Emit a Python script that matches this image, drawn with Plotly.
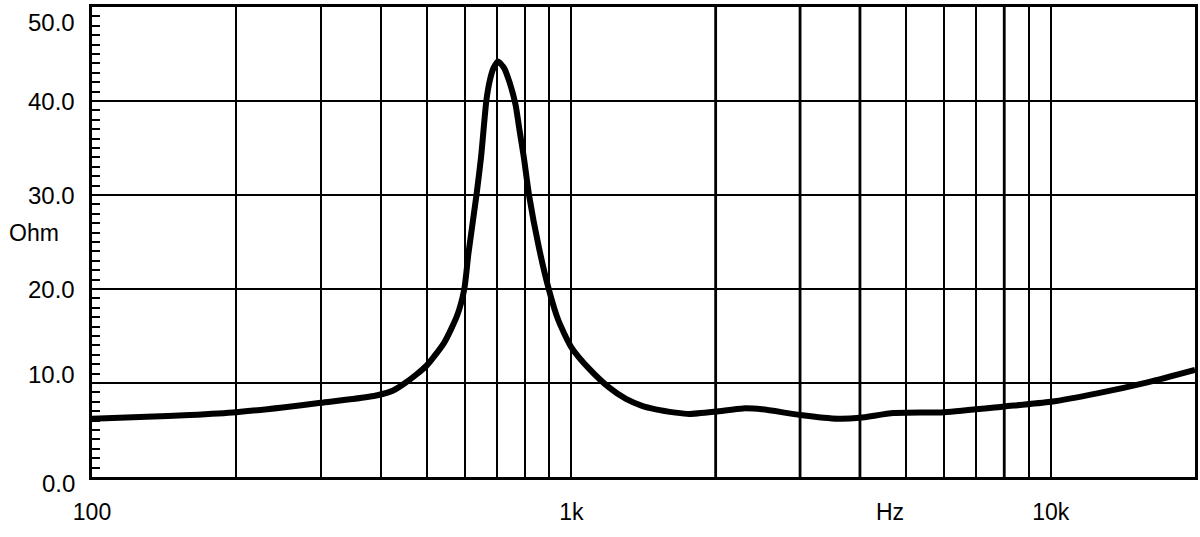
import math
import plotly.graph_objects as go

# ---- data ----
freq_hz = [100, 130, 160, 200, 250, 300, 350, 394, 425, 450, 475, 500, 543, 578, 598, 610,
           634, 648, 665, 676, 688, 703, 724, 743, 765, 779, 796, 816, 855, 897, 939, 1000,
           1090, 1200, 1300, 1400, 1500, 1650, 1760, 2000, 2280, 2500, 3000, 3600, 4000,
           4700, 6000, 8000, 10000, 12500, 16000, 20000]
impedance_ohm = [6.2, 6.4, 6.6, 6.9, 7.4, 7.9, 8.3, 8.7, 9.2, 10.0, 10.9, 11.9, 14.3, 17.2, 20.0, 23.8,
                 30.0, 34.0, 40.1, 42.2, 43.5, 44.2, 43.5, 42.0, 39.6, 37.0, 34.0, 30.0, 24.5, 20.0, 16.7, 13.8,
                 11.5, 9.5, 8.3, 7.6, 7.2, 6.85, 6.7, 6.95, 7.3, 7.2, 6.6, 6.2, 6.3,
                 6.8, 6.9, 7.5, 8.0, 8.9, 10.1, 11.4]

x_tick_vals = [100, 1000, 10000]
x_tick_text = ["100", "1k", "10k"]
x_thin_grid = [200, 300, 400, 500, 600, 700, 800, 900, 5000, 6000, 7000, 9000]
x_thick_grid = [2000, 3000, 4000, 8000]
y_tick_vals = [0, 10, 20, 30, 40, 50]
y_tick_text = ["0.0", "10.0", "20.0", "30.0", "40.0", "50.0"]
y_label_nudge = [-6, 9, 0, 0, 0, -15]   # pixel nudges of the y labels

FONT = "Liberation Sans, Arial, Helvetica, sans-serif"

fig = go.Figure()
fig.add_trace(go.Scatter(
    x=freq_hz, y=impedance_ohm, mode="lines",
    line=dict(color="black", width=6, shape="spline", smoothing=0.6),
    hoverinfo="skip", showlegend=False,
))

# thicker vertical grid lines of the upper decade
for gx in x_thick_grid:
    fig.add_shape(type="line", xref="x", yref="paper", x0=gx, x1=gx, y0=0, y1=1,
                  line=dict(color="black", width=2.8), layer="below")

fig.update_layout(
    width=1200, height=537,
    margin=dict(l=92, r=2, t=7, b=60),
    paper_bgcolor="white", plot_bgcolor="white",
    font=dict(family=FONT, size=24, color="black"),
    xaxis=dict(
        type="log", range=[2, math.log10(20000)],
        tickvals=x_tick_vals, ticktext=x_tick_text,
        ticks="outside", ticklen=13, tickcolor="rgba(0,0,0,0)",
        showgrid=True, gridcolor="black", gridwidth=2.2,
        minor=dict(tickvals=x_thin_grid, showgrid=True, gridcolor="black", gridwidth=1.8, ticks=""),
        showline=True, linecolor="black", linewidth=2.5, mirror=True,
        zeroline=False, tickfont=dict(size=23, family=FONT),
    ),
    yaxis=dict(
        range=[0, 50], tickvals=y_tick_vals, showticklabels=False,
        ticks="inside", ticklen=8, tickwidth=2, tickcolor="black",
        minor=dict(dtick=1, ticks="inside", ticklen=8, tickwidth=2, tickcolor="black", showgrid=False),
        showgrid=True, gridcolor="black", gridwidth=2.2,
        showline=True, linecolor="black", linewidth=2.5, mirror=True,
        zeroline=False,
    ),
)

for v, t, dy in zip(y_tick_vals, y_tick_text, y_label_nudge):
    fig.add_annotation(x=0, xref="paper", y=v, yref="y", text=t, showarrow=False,
                       xanchor="right", yanchor="middle", xshift=-15, yshift=dy,
                       font=dict(size=24, family=FONT, color="black"))

fig.add_annotation(x=0, xref="paper", y=26, yref="y", text="Ohm", showarrow=False,
                   xanchor="center", yanchor="middle", xshift=-58,
                   font=dict(size=23, family=FONT, color="black"))
fig.add_annotation(x=math.log10(4630), xref="x", y=0, yref="paper", text="Hz", showarrow=False,
                   xanchor="center", yanchor="top", yshift=-20,
                   font=dict(size=23, family=FONT, color="black"))

fig.write_html("out.html", config={"displayModeBar": False},
               post_script="document.body.style.margin='0px';")
